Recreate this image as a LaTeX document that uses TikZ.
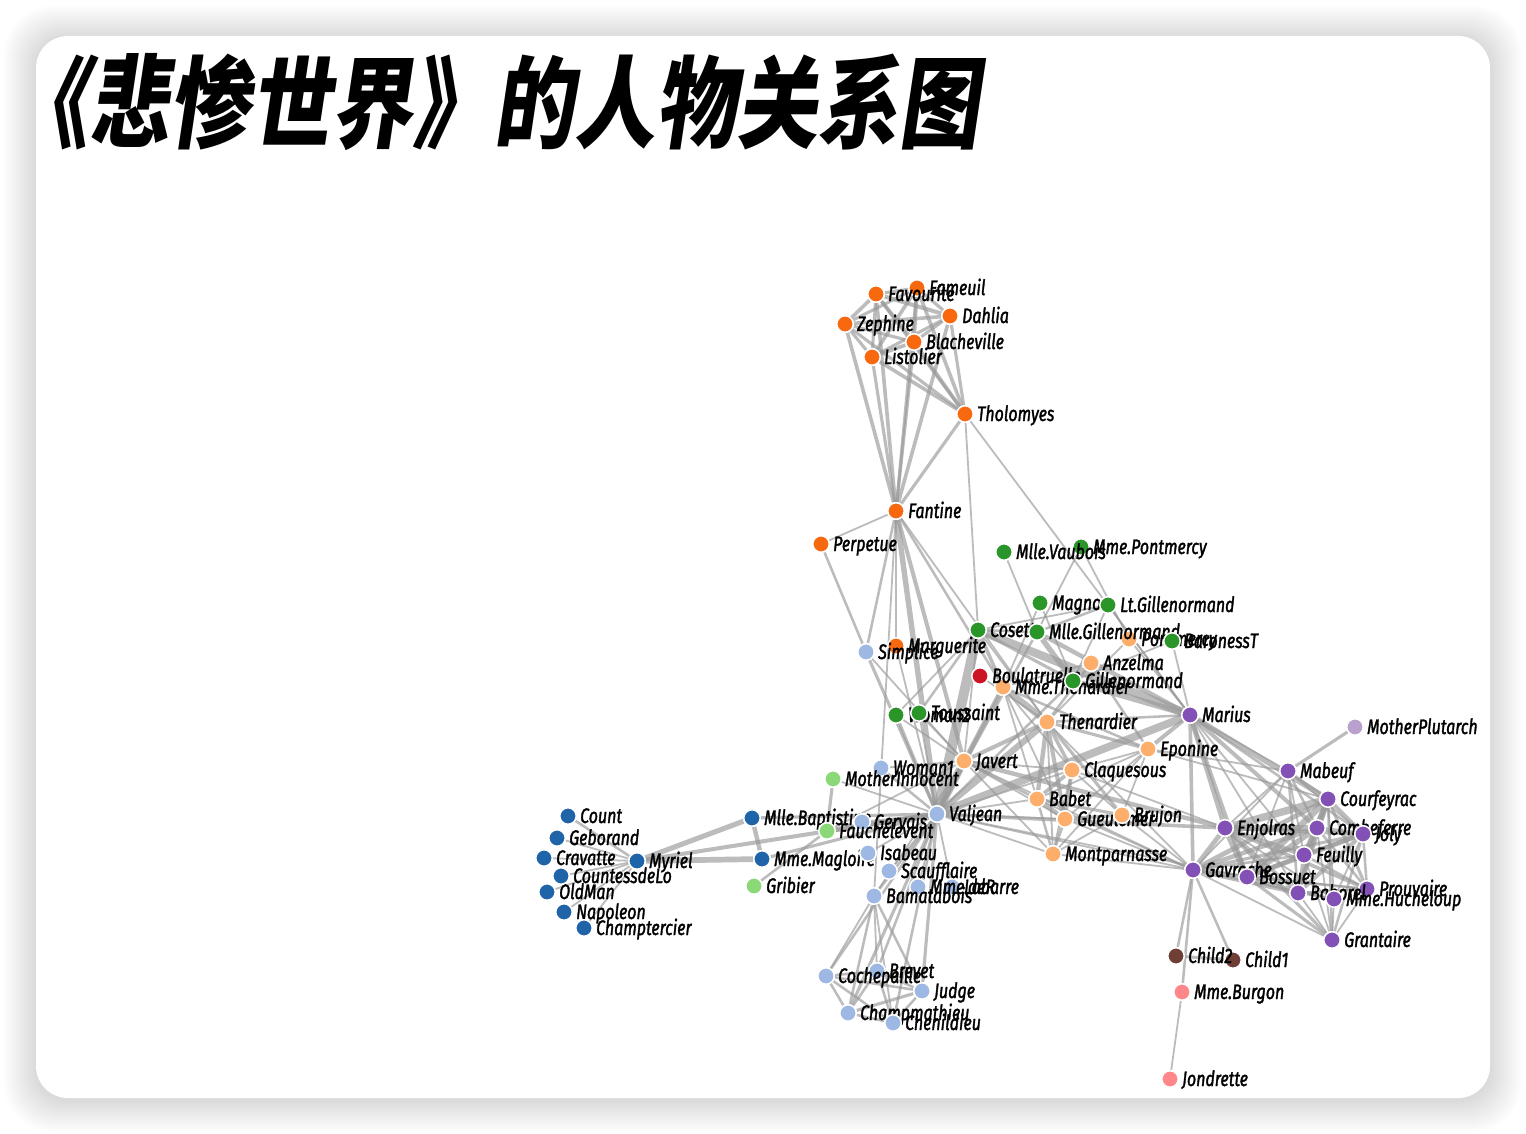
\documentclass[tikz,border=0pt]{standalone}
\usepackage{fontspec}
\newfontfamily\labfont[FakeStretch=0.76,FakeBold=1.6]{Fira Sans}
\newfontfamily\titlefont[FakeStretch=0.81,FakeSlant=0.15]{Noto Sans CJK SC}
\pgfdeclarelayer{bg}
\pgfdeclarelayer{edges}
\pgfsetlayers{bg,edges,main}
\definecolor{cBlue}{HTML}{1F63A8}
\definecolor{cLBlue}{HTML}{9DB8E3}
\definecolor{cOrange}{HTML}{F7680F}
\definecolor{cLOrange}{HTML}{FDAE6B}
\definecolor{cGreen}{HTML}{2A962A}
\definecolor{cLGreen}{HTML}{8BD879}
\definecolor{cRed}{HTML}{CC1425}
\definecolor{cPurple}{HTML}{8350B5}
\definecolor{cLPurple}{HTML}{B9A0CE}
\definecolor{cBrown}{HTML}{6F3F36}
\definecolor{cPink}{HTML}{FF8789}
\definecolor{cLink}{HTML}{999999}
\tikzset{
  dot/.style={circle,draw=white,line width=1.5pt,minimum size=16.5pt,inner sep=0pt},
  lab/.style={anchor=base west,inner sep=0pt,text=black,font=\labfont\itshape\fontsize{21}{24}\selectfont},
  link/.style={draw=cLink,draw opacity=0.65},
}
\newcommand\pp[5]{%
  \node[dot,fill=#4] (#1) at (#2,#3) {};
  \node[lab] (l#1) at ([xshift=12pt,yshift=-7pt]#1.center) {#5};}
\newcommand\lk[3]{\pgfmathsetmacro\lw{1.8*sqrt(#3)}\draw[link,line width=\lw pt] (#1) -- (#2);}
\begin{document}
\begin{tikzpicture}[x=1pt,y=-1pt]
\useasboundingbox (0,0) rectangle (1526,1134);
\begin{pgfonlayer}{bg}
\fill[white] (0,0) rectangle (1526,1134);
\foreach \i in {1,...,18}{
  \fill[black,opacity=0.009,rounded corners={32pt+\i pt}] ({36-1.8*\i},{38-1.8*\i}) rectangle ({1490+1.8*\i},{1100+1.8*\i});
}
\fill[white,rounded corners=32pt] (36,36) rectangle (1490,1098);
\end{pgfonlayer}
\node[anchor=west,inner sep=0pt,font=\titlefont\bfseries\fontsize{100}{110}\selectfont] (title) at (7,102) {《悲惨世界》的人物关系图};
% nodes in data order
\pp{Myriel}{637}{861}{cBlue}{Myriel}
\pp{Napoleon}{564}{912}{cBlue}{Napoleon}
\pp{MlleBaptistine}{752}{818}{cBlue}{Mlle.Baptistine}
\pp{MmeMagloire}{762}{859}{cBlue}{Mme.Magloire}
\pp{CountessdeLo}{561}{876}{cBlue}{CountessdeLo}
\pp{Geborand}{557}{838}{cBlue}{Geborand}
\pp{Champtercier}{584}{928}{cBlue}{Champtercier}
\pp{Cravatte}{544}{858}{cBlue}{Cravatte}
\pp{Count}{568}{816}{cBlue}{Count}
\pp{OldMan}{547}{892}{cBlue}{OldMan}
\pp{Labarre}{952}{887}{cLBlue}{Labarre}
\pp{Valjean}{937}{814}{cLBlue}{Valjean}
\pp{Marguerite}{896}{646}{cOrange}{Marguerite}
\pp{MmedeR}{918}{887}{cLBlue}{Mme.deR}
\pp{Isabeau}{868}{853}{cLBlue}{Isabeau}
\pp{Gervais}{862}{822}{cLBlue}{Gervais}
\pp{Tholomyes}{965}{414}{cOrange}{Tholomyes}
\pp{Listolier}{872}{357}{cOrange}{Listolier}
\pp{Fameuil}{917}{288}{cOrange}{Fameuil}
\pp{Blacheville}{914}{342}{cOrange}{Blacheville}
\pp{Favourite}{876}{294}{cOrange}{Favourite}
\pp{Dahlia}{950}{316}{cOrange}{Dahlia}
\pp{Zephine}{845}{324}{cOrange}{Zephine}
\pp{Fantine}{896}{511}{cOrange}{Fantine}
\pp{MmeThenardier}{1003}{687}{cLOrange}{Mme.Thenardier}
\pp{Thenardier}{1047}{722}{cLOrange}{Thenardier}
\pp{Cosette}{978}{630}{cGreen}{Cosette}
\pp{Javert}{964}{761}{cLOrange}{Javert}
\pp{Fauchelevent}{827}{831}{cLGreen}{Fauchelevent}
\pp{Bamatabois}{874}{896}{cLBlue}{Bamatabois}
\pp{Perpetue}{821}{544}{cOrange}{Perpetue}
\pp{Simplice}{866}{652}{cLBlue}{Simplice}
\pp{Scaufflaire}{889}{871}{cLBlue}{Scaufflaire}
\pp{Woman1}{881}{768}{cLBlue}{Woman1}
\pp{Judge}{922}{991}{cLBlue}{Judge}
\pp{Champmathieu}{848}{1013}{cLBlue}{Champmathieu}
\pp{Brevet}{877}{971}{cLBlue}{Brevet}
\pp{Chenildieu}{893}{1023}{cLBlue}{Chenildieu}
\pp{Cochepaille}{826}{976}{cLBlue}{Cochepaille}
\pp{Pontmercy}{1129}{639}{cLOrange}{Pontmercy}
\pp{Boulatruelle}{980}{676}{cRed}{Boulatruelle}
\pp{Eponine}{1148}{749}{cLOrange}{Eponine}
\pp{Anzelma}{1091}{663}{cLOrange}{Anzelma}
\pp{Woman2}{896}{715}{cGreen}{Woman2}
\pp{MotherInnocent}{833}{779}{cLGreen}{MotherInnocent}
\pp{Gribier}{754}{886}{cLGreen}{Gribier}
\pp{Jondrette}{1170}{1079}{cPink}{Jondrette}
\pp{MmeBurgon}{1182}{992}{cPink}{Mme.Burgon}
\pp{Gavroche}{1193}{870}{cPurple}{Gavroche}
\pp{Gillenormand}{1073}{681}{cGreen}{Gillenormand}
\pp{Magnon}{1040}{603}{cGreen}{Magnon}
\pp{MlleGillenormand}{1037}{632}{cGreen}{Mlle.Gillenormand}
\pp{MmePontmercy}{1081}{547}{cGreen}{Mme.Pontmercy}
\pp{MlleVaubois}{1004}{552}{cGreen}{Mlle.Vaubois}
\pp{LtGillenormand}{1108}{605}{cGreen}{Lt.Gillenormand}
\pp{Marius}{1190}{715}{cPurple}{Marius}
\pp{BaronessT}{1172}{641}{cGreen}{BaronessT}
\pp{Mabeuf}{1288}{771}{cPurple}{Mabeuf}
\pp{Enjolras}{1225}{828}{cPurple}{Enjolras}
\pp{Combeferre}{1317}{828}{cPurple}{Combeferre}
\pp{Prouvaire}{1367}{889}{cPurple}{Prouvaire}
\pp{Feuilly}{1304}{855}{cPurple}{Feuilly}
\pp{Courfeyrac}{1328}{799}{cPurple}{Courfeyrac}
\pp{Bahorel}{1298}{893}{cPurple}{Bahorel}
\pp{Bossuet}{1247}{877}{cPurple}{Bossuet}
\pp{Joly}{1363}{834}{cPurple}{Joly}
\pp{Grantaire}{1332}{940}{cPurple}{Grantaire}
\pp{MotherPlutarch}{1355}{727}{cLPurple}{MotherPlutarch}
\pp{Gueulemer}{1065}{819}{cLOrange}{Gueulemer}
\pp{Babet}{1037}{799}{cLOrange}{Babet}
\pp{Claquesous}{1072}{770}{cLOrange}{Claquesous}
\pp{Montparnasse}{1053}{854}{cLOrange}{Montparnasse}
\pp{Toussaint}{919}{713}{cGreen}{Toussaint}
\pp{Child1}{1233}{960}{cBrown}{Child1}
\pp{Child2}{1176}{956}{cBrown}{Child2}
\pp{Brujon}{1122}{815}{cLOrange}{Brujon}
\pp{MmeHucheloup}{1334}{899}{cPurple}{Mme.Hucheloup}
\begin{pgfonlayer}{edges}
\lk{Napoleon}{Myriel}{1}
\lk{MlleBaptistine}{Myriel}{8}
\lk{MmeMagloire}{Myriel}{10}
\lk{MmeMagloire}{MlleBaptistine}{6}
\lk{CountessdeLo}{Myriel}{1}
\lk{Geborand}{Myriel}{1}
\lk{Champtercier}{Myriel}{1}
\lk{Cravatte}{Myriel}{1}
\lk{Count}{Myriel}{2}
\lk{OldMan}{Myriel}{1}
\lk{Valjean}{Labarre}{1}
\lk{Valjean}{MmeMagloire}{3}
\lk{Valjean}{MlleBaptistine}{3}
\lk{Valjean}{Myriel}{5}
\lk{Marguerite}{Valjean}{1}
\lk{MmedeR}{Valjean}{1}
\lk{Isabeau}{Valjean}{1}
\lk{Gervais}{Valjean}{1}
\lk{Listolier}{Tholomyes}{4}
\lk{Fameuil}{Tholomyes}{4}
\lk{Fameuil}{Listolier}{4}
\lk{Blacheville}{Tholomyes}{4}
\lk{Blacheville}{Listolier}{4}
\lk{Blacheville}{Fameuil}{4}
\lk{Favourite}{Tholomyes}{3}
\lk{Favourite}{Listolier}{3}
\lk{Favourite}{Fameuil}{3}
\lk{Favourite}{Blacheville}{4}
\lk{Dahlia}{Tholomyes}{3}
\lk{Dahlia}{Listolier}{3}
\lk{Dahlia}{Fameuil}{3}
\lk{Dahlia}{Blacheville}{3}
\lk{Dahlia}{Favourite}{5}
\lk{Zephine}{Tholomyes}{3}
\lk{Zephine}{Listolier}{3}
\lk{Zephine}{Fameuil}{3}
\lk{Zephine}{Blacheville}{3}
\lk{Zephine}{Favourite}{4}
\lk{Zephine}{Dahlia}{4}
\lk{Fantine}{Tholomyes}{3}
\lk{Fantine}{Listolier}{3}
\lk{Fantine}{Fameuil}{3}
\lk{Fantine}{Blacheville}{3}
\lk{Fantine}{Favourite}{4}
\lk{Fantine}{Dahlia}{4}
\lk{Fantine}{Zephine}{4}
\lk{Fantine}{Marguerite}{2}
\lk{Fantine}{Valjean}{9}
\lk{MmeThenardier}{Fantine}{2}
\lk{MmeThenardier}{Valjean}{7}
\lk{Thenardier}{MmeThenardier}{13}
\lk{Thenardier}{Fantine}{1}
\lk{Thenardier}{Valjean}{12}
\lk{Cosette}{MmeThenardier}{4}
\lk{Cosette}{Valjean}{31}
\lk{Cosette}{Tholomyes}{1}
\lk{Cosette}{Thenardier}{1}
\lk{Javert}{Valjean}{17}
\lk{Javert}{Fantine}{5}
\lk{Javert}{Thenardier}{5}
\lk{Javert}{MmeThenardier}{1}
\lk{Javert}{Cosette}{1}
\lk{Fauchelevent}{Valjean}{8}
\lk{Fauchelevent}{Javert}{1}
\lk{Bamatabois}{Fantine}{1}
\lk{Bamatabois}{Javert}{1}
\lk{Bamatabois}{Valjean}{2}
\lk{Perpetue}{Fantine}{1}
\lk{Simplice}{Perpetue}{2}
\lk{Simplice}{Valjean}{3}
\lk{Simplice}{Fantine}{2}
\lk{Simplice}{Javert}{1}
\lk{Scaufflaire}{Valjean}{1}
\lk{Woman1}{Valjean}{2}
\lk{Woman1}{Javert}{1}
\lk{Judge}{Valjean}{3}
\lk{Judge}{Bamatabois}{2}
\lk{Champmathieu}{Valjean}{3}
\lk{Champmathieu}{Judge}{3}
\lk{Champmathieu}{Bamatabois}{2}
\lk{Brevet}{Judge}{2}
\lk{Brevet}{Champmathieu}{2}
\lk{Brevet}{Valjean}{2}
\lk{Brevet}{Bamatabois}{1}
\lk{Chenildieu}{Judge}{2}
\lk{Chenildieu}{Champmathieu}{2}
\lk{Chenildieu}{Brevet}{2}
\lk{Chenildieu}{Valjean}{2}
\lk{Chenildieu}{Bamatabois}{1}
\lk{Cochepaille}{Judge}{2}
\lk{Cochepaille}{Champmathieu}{2}
\lk{Cochepaille}{Brevet}{2}
\lk{Cochepaille}{Chenildieu}{2}
\lk{Cochepaille}{Valjean}{2}
\lk{Cochepaille}{Bamatabois}{1}
\lk{Pontmercy}{Thenardier}{1}
\lk{Boulatruelle}{Thenardier}{1}
\lk{Eponine}{MmeThenardier}{2}
\lk{Eponine}{Thenardier}{3}
\lk{Anzelma}{Eponine}{2}
\lk{Anzelma}{Thenardier}{2}
\lk{Anzelma}{MmeThenardier}{1}
\lk{Woman2}{Valjean}{3}
\lk{Woman2}{Cosette}{1}
\lk{Woman2}{Javert}{1}
\lk{MotherInnocent}{Fauchelevent}{3}
\lk{MotherInnocent}{Valjean}{1}
\lk{Gribier}{Fauchelevent}{2}
\lk{MmeBurgon}{Jondrette}{1}
\lk{Gavroche}{MmeBurgon}{2}
\lk{Gavroche}{Thenardier}{1}
\lk{Gavroche}{Javert}{1}
\lk{Gavroche}{Valjean}{1}
\lk{Gillenormand}{Cosette}{3}
\lk{Gillenormand}{Valjean}{2}
\lk{Magnon}{Gillenormand}{1}
\lk{Magnon}{MmeThenardier}{1}
\lk{MlleGillenormand}{Gillenormand}{9}
\lk{MlleGillenormand}{Cosette}{2}
\lk{MlleGillenormand}{Valjean}{2}
\lk{MmePontmercy}{MlleGillenormand}{1}
\lk{MmePontmercy}{Pontmercy}{1}
\lk{MlleVaubois}{MlleGillenormand}{1}
\lk{LtGillenormand}{MlleGillenormand}{2}
\lk{LtGillenormand}{Gillenormand}{1}
\lk{LtGillenormand}{Cosette}{1}
\lk{Marius}{MlleGillenormand}{6}
\lk{Marius}{Gillenormand}{12}
\lk{Marius}{Pontmercy}{1}
\lk{Marius}{LtGillenormand}{1}
\lk{Marius}{Cosette}{21}
\lk{Marius}{Valjean}{19}
\lk{Marius}{Tholomyes}{1}
\lk{Marius}{Thenardier}{2}
\lk{Marius}{Eponine}{5}
\lk{Marius}{Gavroche}{4}
\lk{BaronessT}{Gillenormand}{1}
\lk{BaronessT}{Marius}{1}
\lk{Mabeuf}{Marius}{1}
\lk{Mabeuf}{Eponine}{1}
\lk{Mabeuf}{Gavroche}{1}
\lk{Enjolras}{Marius}{7}
\lk{Enjolras}{Gavroche}{7}
\lk{Enjolras}{Javert}{6}
\lk{Enjolras}{Mabeuf}{1}
\lk{Enjolras}{Valjean}{4}
\lk{Combeferre}{Enjolras}{15}
\lk{Combeferre}{Marius}{5}
\lk{Combeferre}{Gavroche}{6}
\lk{Combeferre}{Mabeuf}{2}
\lk{Prouvaire}{Gavroche}{1}
\lk{Prouvaire}{Enjolras}{4}
\lk{Prouvaire}{Combeferre}{2}
\lk{Feuilly}{Gavroche}{2}
\lk{Feuilly}{Enjolras}{6}
\lk{Feuilly}{Prouvaire}{2}
\lk{Feuilly}{Combeferre}{5}
\lk{Feuilly}{Mabeuf}{1}
\lk{Feuilly}{Marius}{1}
\lk{Courfeyrac}{Marius}{9}
\lk{Courfeyrac}{Enjolras}{17}
\lk{Courfeyrac}{Combeferre}{13}
\lk{Courfeyrac}{Gavroche}{7}
\lk{Courfeyrac}{Mabeuf}{2}
\lk{Courfeyrac}{Eponine}{1}
\lk{Courfeyrac}{Feuilly}{6}
\lk{Courfeyrac}{Prouvaire}{3}
\lk{Bahorel}{Combeferre}{5}
\lk{Bahorel}{Gavroche}{5}
\lk{Bahorel}{Courfeyrac}{6}
\lk{Bahorel}{Mabeuf}{2}
\lk{Bahorel}{Enjolras}{4}
\lk{Bahorel}{Feuilly}{3}
\lk{Bahorel}{Prouvaire}{2}
\lk{Bahorel}{Marius}{1}
\lk{Bossuet}{Marius}{5}
\lk{Bossuet}{Courfeyrac}{12}
\lk{Bossuet}{Gavroche}{5}
\lk{Bossuet}{Bahorel}{4}
\lk{Bossuet}{Enjolras}{10}
\lk{Bossuet}{Feuilly}{6}
\lk{Bossuet}{Prouvaire}{2}
\lk{Bossuet}{Combeferre}{9}
\lk{Bossuet}{Mabeuf}{1}
\lk{Bossuet}{Valjean}{1}
\lk{Joly}{Bahorel}{5}
\lk{Joly}{Bossuet}{7}
\lk{Joly}{Gavroche}{3}
\lk{Joly}{Courfeyrac}{5}
\lk{Joly}{Enjolras}{5}
\lk{Joly}{Feuilly}{5}
\lk{Joly}{Prouvaire}{2}
\lk{Joly}{Combeferre}{5}
\lk{Joly}{Mabeuf}{1}
\lk{Joly}{Marius}{2}
\lk{Grantaire}{Bossuet}{3}
\lk{Grantaire}{Enjolras}{3}
\lk{Grantaire}{Combeferre}{1}
\lk{Grantaire}{Courfeyrac}{2}
\lk{Grantaire}{Joly}{2}
\lk{Grantaire}{Gavroche}{1}
\lk{Grantaire}{Bahorel}{1}
\lk{Grantaire}{Feuilly}{1}
\lk{Grantaire}{Prouvaire}{1}
\lk{MotherPlutarch}{Mabeuf}{3}
\lk{Gueulemer}{Thenardier}{5}
\lk{Gueulemer}{Valjean}{1}
\lk{Gueulemer}{MmeThenardier}{1}
\lk{Gueulemer}{Javert}{1}
\lk{Gueulemer}{Gavroche}{1}
\lk{Gueulemer}{Eponine}{1}
\lk{Babet}{Thenardier}{6}
\lk{Babet}{Gueulemer}{6}
\lk{Babet}{Valjean}{1}
\lk{Babet}{MmeThenardier}{1}
\lk{Babet}{Javert}{2}
\lk{Babet}{Gavroche}{1}
\lk{Babet}{Eponine}{1}
\lk{Claquesous}{Thenardier}{4}
\lk{Claquesous}{Babet}{4}
\lk{Claquesous}{Gueulemer}{4}
\lk{Claquesous}{Valjean}{1}
\lk{Claquesous}{MmeThenardier}{1}
\lk{Claquesous}{Javert}{1}
\lk{Claquesous}{Eponine}{1}
\lk{Claquesous}{Enjolras}{1}
\lk{Montparnasse}{Javert}{1}
\lk{Montparnasse}{Babet}{2}
\lk{Montparnasse}{Gueulemer}{2}
\lk{Montparnasse}{Claquesous}{2}
\lk{Montparnasse}{Valjean}{1}
\lk{Montparnasse}{Gavroche}{1}
\lk{Montparnasse}{Eponine}{1}
\lk{Montparnasse}{Thenardier}{1}
\lk{Toussaint}{Cosette}{2}
\lk{Toussaint}{Javert}{1}
\lk{Toussaint}{Valjean}{1}
\lk{Child1}{Gavroche}{2}
\lk{Child2}{Gavroche}{2}
\lk{Child2}{Child1}{3}
\lk{Brujon}{Babet}{3}
\lk{Brujon}{Gueulemer}{3}
\lk{Brujon}{Thenardier}{3}
\lk{Brujon}{Gavroche}{1}
\lk{Brujon}{Eponine}{1}
\lk{Brujon}{Claquesous}{1}
\lk{Brujon}{Montparnasse}{1}
\lk{MmeHucheloup}{Bossuet}{1}
\lk{MmeHucheloup}{Joly}{1}
\lk{MmeHucheloup}{Grantaire}{1}
\lk{MmeHucheloup}{Bahorel}{1}
\lk{MmeHucheloup}{Courfeyrac}{1}
\lk{MmeHucheloup}{Gavroche}{1}
\lk{MmeHucheloup}{Enjolras}{1}
\end{pgfonlayer}
\end{tikzpicture}
\end{document}
